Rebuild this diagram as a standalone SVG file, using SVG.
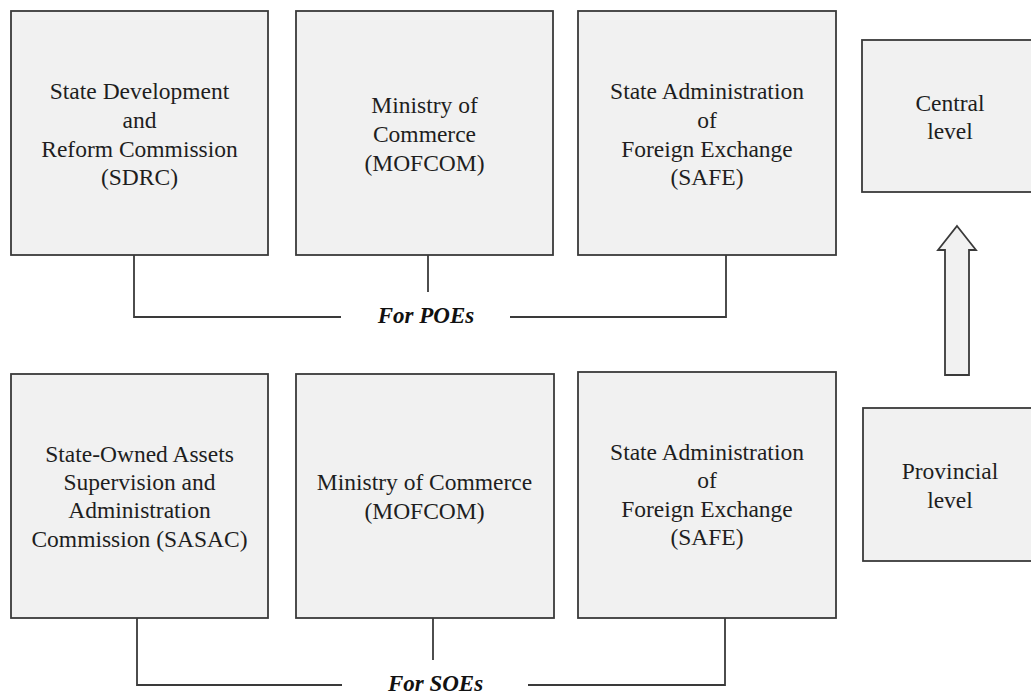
<svg xmlns="http://www.w3.org/2000/svg" width="1031" height="695" viewBox="0 0 1031 695">
<style>
.box{fill:#f1f1f1;stroke:#3a3a3a;stroke-width:1.8}
.t{font-size:23.5px;fill:#1e1e1e;text-anchor:middle}
.lbl{font-size:23px;font-weight:bold;font-style:italic;fill:#111;text-anchor:middle}
.c{fill:none;stroke:#3a3a3a;stroke-width:1.8}
</style>
<rect width="1031" height="695" fill="#ffffff"/>
<g font-family="Liberation Serif, Tinos, Times New Roman, DejaVu Serif, serif">
<g id="sdrc">
<rect class="box" x="11" y="11" width="257" height="244"/>
<text class="t" x="139.5" y="99">State Development</text>
<text class="t" x="139.5" y="128">and</text>
<text class="t" x="139.5" y="157">Reform Commission</text>
<text class="t" x="139.5" y="185">(SDRC)</text>
</g>
<g id="mofcom-top">
<rect class="box" x="296" y="11" width="257" height="244"/>
<text class="t" x="424.5" y="113">Ministry of</text>
<text class="t" x="424.5" y="142">Commerce</text>
<text class="t" x="424.5" y="171">(MOFCOM)</text>
</g>
<g id="safe-top">
<rect class="box" x="578" y="11" width="258" height="244"/>
<text class="t" x="707" y="99">State Administration</text>
<text class="t" x="707" y="128">of</text>
<text class="t" x="707" y="157">Foreign Exchange</text>
<text class="t" x="707" y="185">(SAFE)</text>
</g>
<g id="central">
<rect class="box" x="862" y="40" width="178" height="152"/>
<text class="t" x="950" y="111">Central</text>
<text class="t" x="950" y="139">level</text>
</g>
<g id="sasac">
<rect class="box" x="11" y="374" width="257" height="244"/>
<text class="t" x="139.5" y="462">State-Owned Assets</text>
<text class="t" x="139.5" y="490">Supervision and</text>
<text class="t" x="139.5" y="518">Administration</text>
<text class="t" x="139.5" y="547">Commission (SASAC)</text>
</g>
<g id="mofcom-bottom">
<rect class="box" x="296" y="374" width="258" height="244"/>
<text class="t" x="424.5" y="490">Ministry of Commerce</text>
<text class="t" x="424.5" y="519">(MOFCOM)</text>
</g>
<g id="safe-bottom">
<rect class="box" x="578" y="372" width="258" height="246"/>
<text class="t" x="707" y="460">State Administration</text>
<text class="t" x="707" y="488">of</text>
<text class="t" x="707" y="517">Foreign Exchange</text>
<text class="t" x="707" y="545">(SAFE)</text>
</g>
<g id="provincial">
<rect class="box" x="863" y="408" width="177" height="153"/>
<text class="t" x="950" y="479">Provincial</text>
<text class="t" x="950" y="508">level</text>
</g>
<g id="connectors">
<polyline class="c" points="134,255 134,317 341,317"/>
<polyline class="c" points="510,317 726,317 726,255"/>
<line class="c" x1="428" y1="255" x2="428" y2="292"/>
<text class="lbl" x="426" y="323">For POEs</text>
<polyline class="c" points="137,618 137,685 342,685"/>
<polyline class="c" points="528,685 725,685 725,618"/>
<line class="c" x1="433" y1="618" x2="433" y2="660"/>
<text class="lbl" x="435.5" y="691">For SOEs</text>
<polygon class="box" points="957,226 976,250 969,250 969,375 945,375 945,250 938,250"/>
</g>
</g>
</svg>
